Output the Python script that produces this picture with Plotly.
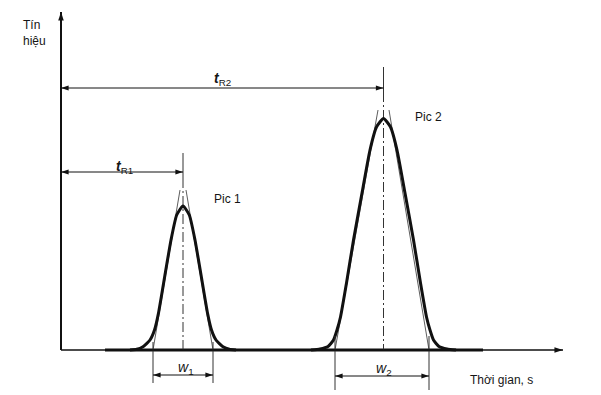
import plotly.graph_objects as go

# ---- data (time units, signal units) ----
peak1_t = [69, 75.7, 82, 89, 93.5, 97.5, 104.3, 110, 115.7, 122, 128.3, 134, 139.7, 146.5, 150.5, 155, 162, 168.3, 175]
peak1_s = [0, 0.7, 3.3, 10, 20, 37, 77, 110, 135, 144, 135, 110, 77, 37, 20, 10, 3.3, 0.7, 0]

peak2_t = [250, 259, 267, 272.5, 276, 279.5, 285.5, 292.5, 301, 309, 315.5, 322.5, 329.5, 336, 344, 352.5, 359.5, 365.5, 369, 372.5, 378, 386, 395]
peak2_s = [0, 1, 3.5, 10, 20, 33, 67, 110, 157, 200, 223, 231.5, 223, 200, 157, 110, 67, 33, 20, 10, 3.5, 1, 0]

baseline_t = [44, 422]
retention_times = [122, 322.5]          # t_R1, t_R2
peak_labels = ["Pic 1", "Pic 2"]
base_widths = [(92, 152), (274, 368)]   # w1, w2 (tangent intersections with baseline)
tangent_top_t = [(119, 125), (317, 328)]
tangent_top_s = [160, 240]

time_axis_end = 502
signal_axis_end = 338

INK = "#111111"
THIN = "#333333"
TEXT = "#151515"
FONT = "Liberation Sans, Arial, sans-serif"

fig = go.Figure()


def seg(x, y, color=THIN, width=1.0, dash=None, shape="linear", smoothing=None):
    line = dict(color=color, width=width, shape=shape)
    if dash:
        line["dash"] = dash
    if smoothing is not None:
        line["smoothing"] = smoothing
    fig.add_trace(go.Scatter(x=x, y=y, mode="lines", line=line, hoverinfo="skip"))


def heads(x, y, angles, size=9):
    fig.add_trace(go.Scatter(x=x, y=y, mode="markers", hoverinfo="skip",
                             marker=dict(symbol="arrow", angle=angles, size=size,
                                         color=INK, line=dict(width=0))))


# baseline thick part
seg(baseline_t, [0, 0], color=INK, width=3)

# tangents
for (b0, b1), (t0, t1), ts in zip(base_widths, tangent_top_t, tangent_top_s):
    seg([b0, t0], [0, ts], width=0.8)
    seg([b1, t1], [0, ts], width=0.8)

# centre lines (dash-dot)
center_tops = [197, 283]
for tr, top in zip(retention_times, center_tops):
    seg([tr, tr], [top, top - 25])
    seg([tr, tr], [top - 25, 0], dash="10px,3px,2px,3px")

# peaks
for pt, ps in [(peak1_t, peak1_s), (peak2_t, peak2_s)]:
    seg(pt, ps, color=INK, width=3, shape="spline", smoothing=0.5)

# width extension lines
ext = [(8, -33), (14, -40)]
for (b0, b1), (e0, e1) in zip(base_widths, ext):
    for b in (b0, b1):
        seg([b, b], [e0, e1])

# axes
seg([0, time_axis_end], [0, 0], color=INK, width=1.5)
seg([0, 0], [0, signal_axis_end], color=INK, width=2)
heads([time_axis_end], [0], [90], size=9)
heads([0], [signal_axis_end], [0], size=9)

# retention-time arrows
tr_levels = [178, 262]
for tr, lv in zip(retention_times, tr_levels):
    seg([0, tr], [lv, lv], color=INK, width=1)
    heads([0, tr], [lv, lv], [-90, 90], size=8)

# width arrows
w_levels = [-25, -26]
for (b0, b1), lv in zip(base_widths, w_levels):
    seg([b0, b1], [lv, lv], color=INK, width=1)
    heads([b0, b1], [lv, lv], [-90, 90], size=8)


def label(x, y, text, size=12):
    fig.add_annotation(x=x, y=y, xref="x", yref="y", text=text, showarrow=False,
                       xanchor="left", yanchor="middle", align="left",
                       font=dict(family=FONT, size=size, color=TEXT))


label(-40, 317, "Tín<br>hiệu", 12)
label(150.7, 151, peak_labels[0], 12)
label(352, 233, peak_labels[1], 12)
label(407, -30, "Thời gian, s", 12)
label(53, 183, "<i><b>t</b></i><sub>R1</sub>", 14)
label(151, 271, "<i><b>t</b></i><sub>R2</sub>", 14)
label(115, -18, "<i>w</i><sub>1</sub>", 14)
label(313, -19, "<i>w</i><sub>2</sub>", 14)

fig.update_layout(
    width=601, height=395,
    margin=dict(l=0, r=0, t=0, b=0),
    paper_bgcolor="white", plot_bgcolor="white",
    showlegend=False,
    xaxis=dict(range=[-61, 540], visible=False, fixedrange=True),
    yaxis=dict(range=[-45, 350], visible=False, fixedrange=True),
)

fig.write_html("out.html")
